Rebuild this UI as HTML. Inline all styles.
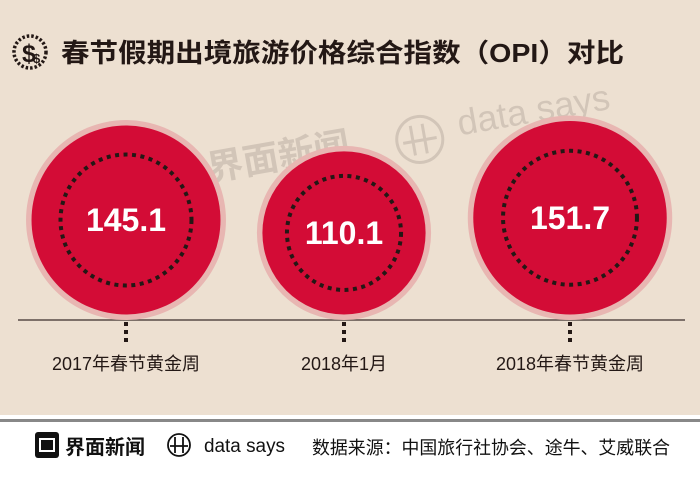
<!DOCTYPE html>
<html><head><meta charset="utf-8">
<style>
body{margin:0;width:700px;height:478px;overflow:hidden;background:#fff;font-family:"Liberation Sans","Noto Sans CJK SC",sans-serif;}
</style></head>
<body>
<svg width="700" height="478" viewBox="0 0 700 478" xmlns="http://www.w3.org/2000/svg">
<rect x="0" y="0" width="700" height="415" fill="#ede0d1"/>
<rect x="0" y="419" width="700" height="3" fill="#888"/>
<g>
<circle cx="30" cy="52" r="16" fill="none" stroke="#231815" stroke-width="3.5" stroke-dasharray="2.5 2"/>
<text x="22" y="62" font-size="25" font-weight="bold" fill="#231815">$</text>
<text x="33" y="63" font-size="13" font-weight="bold" fill="#231815">$</text>
</g>
<text x="61" y="62" font-size="26" font-weight="bold" fill="#231815" textLength="563" lengthAdjust="spacingAndGlyphs">春节假期出境旅游价格综合指数（OPI）对比</text>
<g opacity="0.13" fill="#231815">
<g transform="rotate(-10 260 150)">
<rect x="152" y="140" width="40" height="40" rx="6"/>
<text x="205" y="172" font-size="36" font-weight="bold">界面新闻</text>
</g>
<g transform="rotate(-10 500 105)">
<circle cx="415" cy="125" r="23" fill="none" stroke="#231815" stroke-width="3"/>
<path d="M408 110v30M420 110v30M398 126h34" stroke="#231815" stroke-width="3" fill="none"/>
<text x="455" y="128" font-size="36">data says</text>
</g>
</g>
<line x1="18" y1="320" x2="685" y2="320" stroke="#7d7069" stroke-width="2"/>
<g id="bubbles"></g>
<g>
<rect x="35" y="432" width="24" height="26" rx="3" fill="#111"/>
<rect x="40" y="439" width="14" height="12" fill="none" stroke="#fff" stroke-width="2"/>
<text x="65" y="454" font-size="20" font-weight="bold" fill="#111">界面新闻</text>
<circle cx="179" cy="445" r="11" fill="none" stroke="#111" stroke-width="1.8"/>
<path d="M175 437v16M183 437v16M170 446h18" stroke="#111" stroke-width="1.8" fill="none"/>
<text x="204" y="452" font-size="19" fill="#111" textLength="81" lengthAdjust="spacingAndGlyphs">data says</text>
<text x="312" y="454" font-size="18" fill="#111" textLength="358" lengthAdjust="spacingAndGlyphs">数据来源：中国旅行社协会、途牛、艾威联合</text>
</g>
</svg>
<script>
const categories = ["2017年春节黄金周", "2018年1月", "2018年春节黄金周"];
const values = [145.1, 110.1, 151.7];
const labels = ["145.1", "110.1", "151.7"];
const xCenters = [126, 344, 570];
const baseY = 320;
function rScale(v){ return 8.3*Math.sqrt(v); }
const NS = "http://www.w3.org/2000/svg";
const g = document.getElementById('bubbles');
function mk(tag, attrs){ const e=document.createElementNS(NS,tag); for(const k in attrs) e.setAttribute(k,attrs[k]); return e; }
values.forEach((v,i)=>{
  const R = rScale(v), cx = xCenters[i], cy = baseY - R;
  const halo = mk('circle',{cx:cx,cy:cy,r:R,fill:'#e8b6b2'});
  
  
  g.appendChild(halo);
  const c = mk('circle',{cx:cx,cy:cy,r:R-5.5,fill:'#d30c36'});
  
  
  g.appendChild(c);
  const d = mk('circle',{cx:cx,cy:cy,r:R*0.655,fill:'none',stroke:'#231815','stroke-width':4,'stroke-dasharray':'4 4.5'});
  
  
  g.appendChild(d);
  const t = mk('text',{x:cx,y:cy+11,'text-anchor':'middle','font-size':32,'font-weight':'bold',fill:'#fff'});
  t.textContent = labels[i];
  
  
  g.appendChild(t);
  const tk = mk('line',{x1:cx,y1:baseY+2,x2:cx,y2:346,stroke:'#231815','stroke-width':4,'stroke-dasharray':'4 4'});
  
  
  g.appendChild(tk);
  const lb = mk('text',{x:cx,y:370,'text-anchor':'middle','font-size':18,fill:'#231815'});
  lb.textContent = categories[i];
  
  
  g.appendChild(lb);
});
</script>
</body></html>
